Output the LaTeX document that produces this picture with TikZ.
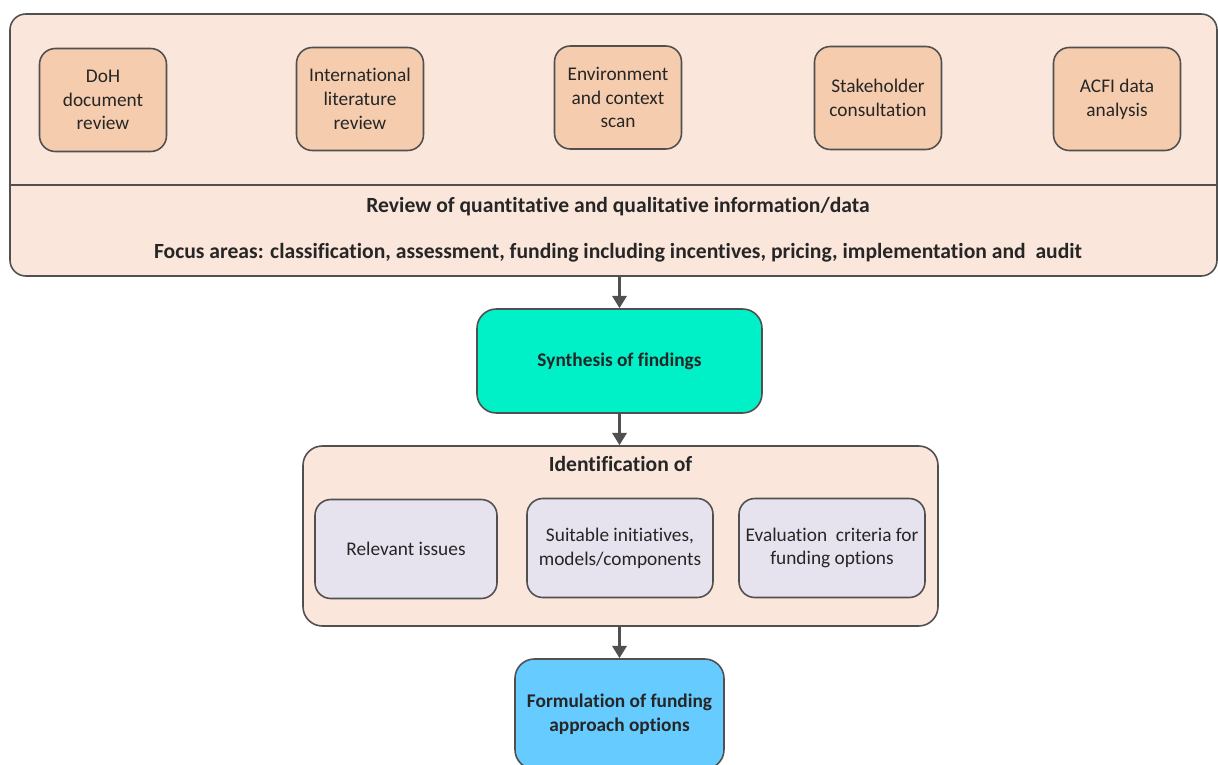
\documentclass[tikz,border=0pt]{standalone}
\usepackage{fontspec}
\setmainfont{Carlito}[Ligatures={NoCommon}]
\usetikzlibrary{arrows.meta, calc, positioning}

\definecolor{peach}{HTML}{FAE6DA}
\definecolor{srcfill}{HTML}{F5CDAE}
\definecolor{idfill}{HTML}{E6E3EE}
\definecolor{synfill}{HTML}{00F0C8}
\definecolor{formfill}{HTML}{66CCFF}
\definecolor{edge}{HTML}{505050}

\begin{document}
\begin{tikzpicture}[
  every node/.style={font=\fontsize{11}{13.5}\selectfont, text=black!85},
  frame/.style={draw=edge, line width=0.9pt, rounded corners=9pt, fill=peach},
  src/.style={draw=edge, line width=0.9pt, rounded corners=9pt, fill=srcfill,
              minimum width=2.54cm, minimum height=2.06cm, align=center},
  idbox/.style={draw=edge, line width=0.9pt, rounded corners=9pt, fill=idfill,
                minimum height=1.98cm, align=center, inner sep=1pt},
  stage/.style={draw=edge, line width=0.9pt, rounded corners=11pt, align=center,
                font=\fontsize{11}{13.5}\selectfont\bfseries},
  arr/.style={-{Triangle[length=7pt, width=8pt]}, line width=1.8pt, draw=edge},
  hdr/.style={font=\fontsize{12.3}{14}\selectfont\bfseries},
]
  \useasboundingbox (0,0) rectangle (24.36,-15.3);

  %% ── Information gathering ──
  \node[frame, minimum width=24.14cm, minimum height=5.24cm] (gather)
    at (12.27,-2.9) {};
  \draw[edge, line width=0.9pt] (gather.west |- 0,-3.7) -- (gather.east |- 0,-3.7);
  \node[src] (doh)   at (2.06,-2.0)  {DoH\\document\\review};
  \node[src] (intl)  at (7.2,-1.98)  {International\\literature\\review};
  \node[src] (env)   at (12.36,-1.95) {Environment\\and context\\scan};
  \node[src] (stake) at (17.56,-1.96) {Stakeholder\\consultation};
  \node[src] (acfi)  at (22.34,-1.98) {ACFI data\\analysis};
  \node[hdr] (review) at (12.36,-4.14)
    {Review of quantitative and qualitative information/data};
  \node[hdr] (focus) at (12.36,-5.06)
    {Focus areas: classification, assessment, funding including incentives, pricing, implementation and\ \ audit};

  %% ── Synthesis ──
  \node[stage, fill=synfill, minimum width=5.7cm, minimum height=2.08cm]
    (synth) at (12.39,-7.22) {Synthesis of findings};

  %% ── Identification ──
  \node[frame, rounded corners=11pt, minimum width=12.7cm, minimum height=3.6cm]
    (ident) at (12.41,-10.72) {};
  \node[hdr] (idtitle) at (12.41,-9.28) {Identification of};
  \node[idbox, minimum width=3.64cm] (issues) at (8.12,-10.98)
    {Relevant issues};
  \node[idbox, minimum width=3.72cm] (models) at (12.4,-10.96)
    {Suitable initiatives,\\models/components};
  \node[idbox, minimum width=3.72cm] (criteria) at (16.64,-10.96)
    {Evaluation\ \ criteria for\\funding options};

  %% ── Formulation ──
  \node[stage, fill=formfill, minimum width=4.18cm, minimum height=2.2cm]
    (form) at (12.39,-14.28) {Formulation of funding\\approach options};

  %% ═══════ ARROWS ═══════
  \draw[arr] (synth.north |- gather.south) -- (synth.north);
  \draw[arr] (synth.south) -- (synth.south |- ident.north);
  \draw[arr] (form.north |- ident.south) -- (form.north);
\end{tikzpicture}
\end{document}
